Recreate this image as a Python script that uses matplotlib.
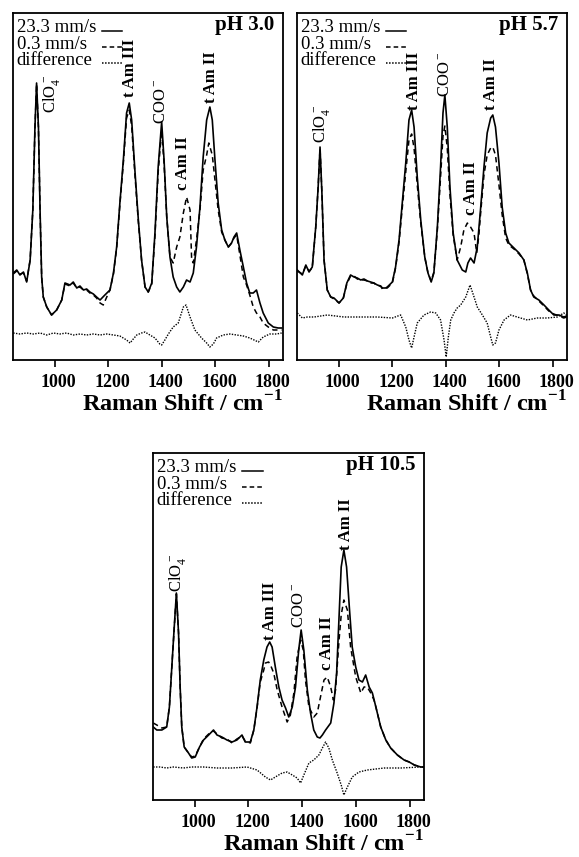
import matplotlib
matplotlib.use("Agg")
import matplotlib.pyplot as plt
import matplotlib.transforms as mtransforms

plt.rcParams["font.family"] = ["Liberation Serif", "DejaVu Serif"]
plt.rcParams["mathtext.fontset"] = "custom"
plt.rcParams["mathtext.rm"] = "Liberation Serif"
plt.rcParams["mathtext.bf"] = "Liberation Serif:bold"

# ---------------- pH 3.0 ----------------
p1_fast_x = [846, 859, 871, 884, 896, 909, 919, 927, 933, 940, 946, 952, 958, 971, 989, 1008,
             1027, 1039, 1058, 1070, 1083, 1095, 1108, 1120, 1132, 1145, 1157, 1170, 1188, 1207,
             1220, 1232, 1244, 1257, 1269, 1279, 1288, 1300, 1313, 1325, 1338, 1350, 1363, 1375,
             1387, 1400, 1409, 1419, 1431, 1443, 1456, 1468, 1481, 1493, 1506, 1518, 1530, 1543,
             1555, 1568, 1580, 1589, 1599, 1611, 1624, 1636, 1649, 1661, 1670, 1680, 1692, 1705,
             1717, 1729, 1742, 1754, 1767, 1779, 1798, 1817, 1835, 1848]
p1_fast_y = [87, 90, 85, 88, 78, 100, 150, 233, 277, 233, 150, 83, 63, 53, 45, 50,
             60, 77, 75, 78, 72, 74, 70, 71, 68, 66, 63, 60, 65, 70,
             87, 113, 157, 200, 247, 257, 240, 190, 140, 100, 73, 68, 77, 127,
             193, 238, 200, 143, 103, 83, 73, 68, 73, 80, 78, 87, 113, 153,
             203, 240, 253, 240, 200, 157, 130, 120, 113, 117, 123, 127, 110, 93,
             77, 67, 67, 70, 57, 47, 37, 33, 32, 32]
p1_slow_x = [846, 859, 871, 884, 896, 909, 919, 927, 933, 940, 946, 952, 958, 971, 989, 1008,
             1027, 1039, 1058, 1070, 1083, 1095, 1108, 1120, 1132, 1145, 1157, 1170, 1182, 1195,
             1207, 1220, 1232, 1244, 1257, 1269, 1279, 1288, 1300, 1313, 1325, 1338, 1350, 1363,
             1375, 1387, 1400, 1409, 1419, 1431, 1443, 1456, 1468, 1481, 1493, 1506, 1512, 1518,
             1530, 1543, 1555, 1568, 1576, 1589, 1599, 1611, 1624, 1636, 1649, 1661, 1670, 1680,
             1692, 1705, 1717, 1729, 1742, 1754, 1767, 1779, 1798, 1817, 1835, 1848]
p1_slow_y = [86, 89, 86, 87, 79, 100, 150, 232, 276, 232, 150, 83, 63, 53, 45, 50,
             60, 76, 74, 77, 72, 73, 70, 70, 67, 65, 62, 57, 55, 63,
             70, 86, 112, 155, 197, 242, 250, 234, 186, 138, 100, 73, 68, 76,
             124, 188, 230, 196, 143, 103, 97, 113, 123, 147, 163, 150, 100, 97,
             120, 150, 190, 205, 217, 205, 180, 150, 128, 120, 113, 117, 122, 125,
             105, 83, 75, 65, 53, 47, 43, 37, 33, 30, 30, 30]
p1_diff_x = [846, 871, 896, 921, 946, 971, 996, 1020, 1045, 1070, 1095, 1120, 1145, 1170,
             1195, 1220, 1244, 1269, 1282, 1294, 1307, 1325, 1338, 1356, 1375, 1393, 1400,
             1412, 1425, 1443, 1462, 1481, 1491, 1506, 1524, 1549, 1568, 1580, 1593, 1605,
             1630, 1655, 1680, 1705, 1729, 1761, 1779, 1804, 1829, 1848]
p1_diff_y = [27, 26, 27, 26, 27, 25, 27, 26, 27, 25, 26, 25, 26, 25,
             26, 25, 24, 20, 17, 21, 25, 27, 28, 25, 22, 16, 15,
             20, 26, 33, 37, 53, 55, 43, 30, 22, 17, 13, 16, 22,
             25, 26, 25, 24, 22, 18, 23, 26, 26, 27]

# ---------------- pH 5.7 ----------------
p2_fast_x = [846, 865, 878, 890, 902, 915, 924, 931, 938, 946, 958, 971, 983, 1002, 1018, 1031,
             1045, 1058, 1070, 1083, 1095, 1108, 1120, 1132, 1145, 1157, 1164, 1176, 1182, 1201,
             1213, 1226, 1238, 1251, 1263, 1273, 1282, 1294, 1307, 1322, 1334, 1346, 1356, 1369,
             1381, 1390, 1397, 1406, 1416, 1428, 1443, 1462, 1475, 1483, 1493, 1506, 1518, 1530,
             1543, 1555, 1568, 1576, 1586, 1599, 1611, 1624, 1636, 1655, 1674, 1692, 1705, 1717,
             1729, 1748, 1767, 1785, 1804, 1823, 1841, 1852]
p2_fast_y = [90, 85, 95, 88, 93, 133, 173, 213, 167, 100, 70, 63, 62, 57, 62, 77,
             85, 83, 82, 80, 81, 79, 78, 77, 75, 74, 72, 72, 73, 78,
             93, 120, 157, 197, 240, 250, 233, 183, 140, 103, 87, 78, 87, 133,
             193, 247, 265, 233, 173, 127, 100, 90, 88, 97, 102, 97, 113, 150,
             193, 227, 242, 245, 233, 197, 153, 127, 117, 112, 107, 100, 87, 70,
             63, 60, 55, 50, 45, 45, 43, 44]
p2_slow_x = [846, 865, 878, 890, 902, 915, 924, 931, 938, 946, 958, 971, 983, 1002, 1018, 1031,
             1045, 1058, 1070, 1083, 1095, 1108, 1120, 1132, 1145, 1157, 1164, 1176, 1182, 1201,
             1213, 1226, 1238, 1251, 1263, 1273, 1282, 1294, 1307, 1322, 1334, 1346, 1356, 1369,
             1381, 1390, 1397, 1406, 1416, 1428, 1443, 1456, 1468, 1481, 1493, 1506, 1516, 1524,
             1530, 1543, 1555, 1568, 1576, 1586, 1599, 1611, 1624, 1636, 1655, 1674, 1692, 1705,
             1717, 1729, 1748, 1767, 1785, 1804, 1823, 1841, 1852]
p2_slow_y = [89, 86, 94, 89, 92, 133, 173, 212, 167, 100, 70, 63, 61, 57, 62, 76,
             84, 84, 81, 80, 80, 79, 77, 77, 74, 74, 71, 72, 72, 77,
             92, 118, 152, 188, 220, 226, 212, 175, 137, 103, 87, 79, 88, 130,
             183, 224, 234, 212, 165, 125, 100, 113, 130, 137, 133, 127, 107, 125,
             145, 185, 205, 212, 213, 205, 175, 145, 122, 115, 111, 106, 100, 86,
             70, 64, 59, 54, 49, 46, 44, 42, 43]
p2_diff_x = [846, 865, 884, 909, 958, 1020, 1083, 1145, 1201, 1232, 1251, 1263, 1273, 1282,
             1294, 1319, 1344, 1363, 1381, 1394, 1402, 1410, 1419, 1431, 1443, 1456, 1475, 1491,
             1506, 1518, 1537, 1555, 1568, 1576, 1586, 1599, 1618, 1642, 1667, 1705, 1742, 1779,
             1817, 1841, 1852]
p2_diff_y = [47, 42, 43, 43, 45, 43, 43, 43, 42, 45, 33, 20, 12, 23,
             37, 45, 48, 47, 40, 20, 3, 23, 40, 47, 52, 55, 63, 75,
             63, 53, 45, 37, 23, 15, 17, 30, 40, 45, 43, 40, 42, 42,
             43, 47, 45]

# ---------------- pH 10.5 ----------------
p3_fast_x = [846, 859, 878, 896, 906, 915, 924, 932, 940, 946, 952, 961, 977, 989, 1002, 1018,
             1033, 1052, 1070, 1083, 1101, 1120, 1139, 1157, 1176, 1188, 1207, 1220, 1232, 1244,
             1257, 1269, 1279, 1288, 1300, 1313, 1325, 1338, 1350, 1363, 1375, 1387, 1396, 1406,
             1419, 1431, 1443, 1456, 1466, 1475, 1487, 1506, 1518, 1528, 1537, 1545, 1555, 1565,
             1576, 1586, 1599, 1611, 1624, 1636, 1649, 1661, 1674, 1692, 1711, 1729, 1754, 1779,
             1798, 1817, 1841, 1852]
p3_fast_y = [73, 70, 70, 73, 93, 133, 173, 207, 167, 113, 73, 53, 47, 42, 43, 53,
             60, 65, 70, 65, 63, 60, 58, 60, 65, 58, 58, 70, 93, 120,
             140, 153, 158, 153, 133, 113, 100, 92, 83, 93, 113, 150, 170, 150,
             110, 87, 70, 63, 62, 65, 70, 77, 97, 127, 183, 233, 250, 233,
             190, 153, 133, 120, 118, 125, 113, 107, 93, 73, 60, 52, 45, 40,
             38, 35, 33, 33]
p3_slow_x = [846, 859, 878, 896, 906, 915, 924, 932, 940, 946, 952, 961, 977, 989, 1002, 1018,
             1033, 1052, 1070, 1083, 1101, 1120, 1139, 1157, 1176, 1188, 1207, 1220, 1232, 1244,
             1257, 1263, 1275, 1282, 1294, 1307, 1325, 1344, 1356, 1369, 1381, 1394, 1404, 1412,
             1425, 1443, 1456, 1468, 1481, 1493, 1506, 1516, 1524, 1537, 1545, 1555, 1568, 1580,
             1599, 1618, 1630, 1642, 1655, 1667, 1674, 1692, 1711, 1729, 1754, 1779, 1798, 1817,
             1841, 1852]
p3_slow_y = [77, 75, 72, 73, 93, 133, 172, 206, 167, 113, 73, 53, 47, 43, 44, 53,
             61, 66, 69, 66, 62, 61, 57, 61, 64, 59, 57, 70, 92, 118,
             130, 137, 138, 135, 127, 110, 93, 78, 85, 107, 143, 160, 150, 120,
             93, 83, 87, 103, 120, 123, 113, 100, 110, 160, 185, 200, 190, 153,
             123, 107, 113, 113, 107, 100, 93, 73, 60, 52, 45, 40, 38, 35,
             33, 33]
p3_diff_x = [846, 871, 896, 921, 958, 989, 1033, 1083, 1139, 1195, 1232, 1263, 1282, 1300,
             1325, 1344, 1363, 1381, 1394, 1406, 1425, 1443, 1462, 1475, 1487, 1499, 1512, 1530,
             1545, 1555, 1568, 1586, 1611, 1642, 1705, 1767, 1841]
p3_diff_y = [33, 33, 32, 33, 32, 33, 33, 32, 32, 33, 30, 23, 20, 23,
             27, 28, 25, 22, 17, 25, 37, 40, 45, 52, 58, 52, 40, 27,
             15, 5, 13, 23, 28, 30, 32, 32, 33]

# peak labels: (text, x, bottom y, bold)
p1_labels = [(r"ClO$_4^-$", 988, 247, False), ("t Am III", 1280, 263, True),
             (r"COO$^-$", 1402, 236, False), ("c Am II", 1481, 170, True),
             ("t Am II", 1585, 257, True)]
p2_labels = [(r"ClO$_4^-$", 935, 217, False), ("t Am III", 1282, 250, True),
             (r"COO$^-$", 1401, 263, False), ("c Am II", 1494, 145, True),
             ("t Am II", 1569, 250, True)]
p3_labels = [(r"ClO$_4^-$", 935, 208, False), ("t Am III", 1281, 160, True),
             (r"COO$^-$", 1393, 172, False), ("c Am II", 1493, 130, True),
             ("t Am II", 1564, 250, True)]

legend_names = ["23.3 mm/s", "0.3 mm/s", "difference"]
xticks = [1000, 1200, 1400, 1600, 1800]

fig = plt.figure(figsize=(5.79, 8.57), dpi=100)


def draw_panel(rect, fast_x, fast_y, slow_x, slow_y, diff_x, diff_y, labels, title):
    ax = fig.add_axes(rect)
    ax.plot(fast_x, fast_y, color="black", lw=1.2, ls="-")
    ax.plot(slow_x, slow_y, color="black", lw=1.1, ls=(0, (3.5, 2.5)))
    ax.plot(diff_x, diff_y, color="black", lw=1.0, ls=(0, (1, 1)))
    ax.set_xlim(845, 1853)
    ax.set_ylim(0, 347)
    ax.set_yticks([])
    ax.set_xticks(xticks)
    ax.tick_params(axis="x", direction="out", length=5, width=1.2, pad=5)
    for lab in ax.get_xticklabels():
        lab.set_fontsize(13)
        lab.set_fontweight("bold")
        lab.set_transform(lab.get_transform() +
                          mtransforms.ScaledTranslation(0.04, 0, fig.dpi_scale_trans))
    for sp in ax.spines.values():
        sp.set_linewidth(1.3)
    ax.set_xlabel(r"Raman Shift / cm$^{\mathbf{-1}}$", fontsize=17.5, fontweight="bold",
                  loc="right", labelpad=0)

    # legend block in the upper left
    ys = [0.944, 0.897, 0.850]
    styles = ["-", (0, (3, 2)), (0, (1, 1))]
    for name, y, st in zip(legend_names, ys, styles):
        ax.text(0.014, y, name, transform=ax.transAxes, fontsize=13.5, va="baseline")
        ax.plot([0.330, 0.405], [y + 0.005, y + 0.005], transform=ax.transAxes,
                color="black", lw=1.1, ls=st)
    ax.text(0.968, 0.952, title, transform=ax.transAxes, fontsize=15, fontweight="bold",
            ha="right", va="baseline")

    for txt, x, y, bold in labels:
        ax.text(x, y, txt, rotation=90, ha="center", va="bottom", fontsize=12,
                fontweight="bold" if bold else "normal")
    return ax


draw_panel([0.02245, 0.57993, 0.46632, 0.40490], p1_fast_x, p1_fast_y, p1_slow_x, p1_slow_y,
           p1_diff_x, p1_diff_y, p1_labels, "pH 3.0")
draw_panel([0.51295, 0.57993, 0.46632, 0.40490], p2_fast_x, p2_fast_y, p2_slow_x, p2_slow_y,
           p2_diff_x, p2_diff_y, p2_labels, "pH 5.7")
draw_panel([0.26425, 0.06651, 0.46805, 0.40490], p3_fast_x, p3_fast_y, p3_slow_x, p3_slow_y,
           p3_diff_x, p3_diff_y, p3_labels, "pH 10.5")

fig.savefig("out.png", dpi=100)
